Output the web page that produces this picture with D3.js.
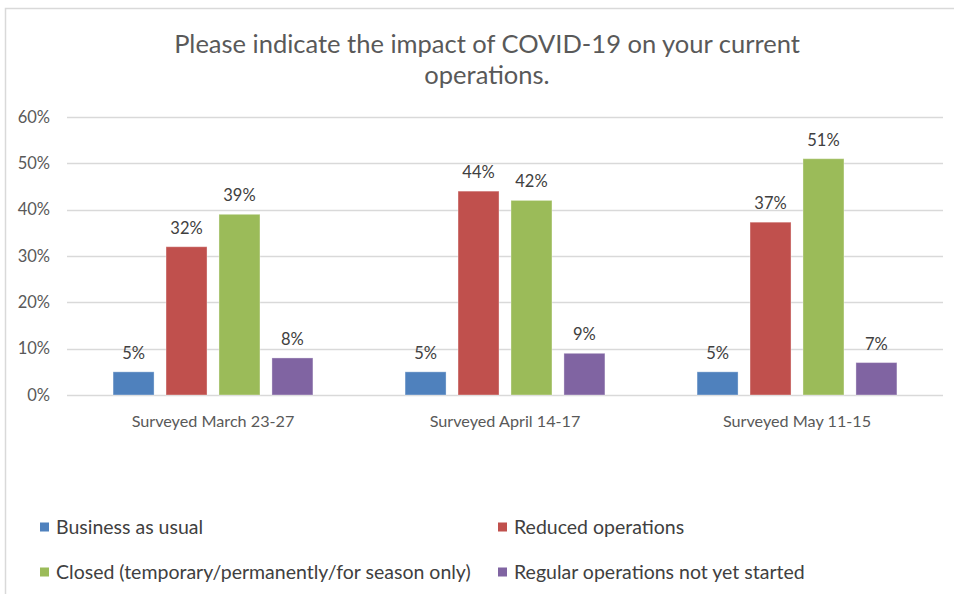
<!DOCTYPE html>
<html><head><meta charset="utf-8">
<script src="https://cdn.jsdelivr.net/npm/d3@7/dist/d3.min.js"></script>
<style>
html,body{margin:0;padding:0;background:#fff;}
svg{display:block;font-family:Lato,"Open Sans",sans-serif;}
</style></head>
<body>
<svg id="chart" width="954" height="594"></svg>
<script>
const titleLines = ["Please indicate the impact of COVID-19 on your current", "operations."];
const categories = ["Surveyed March 23-27", "Surveyed April 14-17", "Surveyed May 11-15"];
const seriesNames = ["Business as usual", "Reduced operations", "Closed (temporary/permanently/for season only)", "Regular operations not yet started"];
const seriesColors = ["#4f81bd", "#c0504d", "#9bbb59", "#8064a2"];
const businessAsUsual = [5, 5, 5];
const reducedOperations = [32, 44, 37.3];
const closed = [39, 42, 51];
const notYetStarted = [8, 9, 7];
const valueLabels = [["5%","5%","5%"],["32%","44%","37%"],["39%","42%","51%"],["8%","9%","7%"]];
const yTicks = [0, 10, 20, 30, 40, 50, 60];

const seriesValues = [businessAsUsual, reducedOperations, closed, notYetStarted];

const svg = d3.select("#chart");
// frame
svg.append("rect").attr("x", 5.5).attr("y", 8.5).attr("width", 1000).attr("height", 700)
  .attr("fill", "#fff").attr("stroke", "#d9d9d9").attr("stroke-width", 1.5);

const plotLeft = 67, plotRight = 943, plotTop = 117, plotBottom = 395;
const y = d3.scaleLinear().domain([0, 60]).range([plotBottom, plotTop]);
const x0 = d3.scaleBand().domain(categories).range([plotLeft, plotRight]).paddingInner(0).paddingOuter(0);
const x1 = d3.scaleBand().domain(d3.range(seriesNames.length)).range([0, x0.bandwidth()])
  .paddingInner(0.226).paddingOuter(0.87);

// title
const title = svg.append("text").attr("text-anchor", "middle").attr("fill", "#595959")
  .attr("font-size", 25.5);
titleLines.forEach((t, i) => {
  title.append("tspan").attr("x", 487).attr("y", 53 + i * 31).text(t);
});

// gridlines
svg.append("g").selectAll("line").data(yTicks).join("line")
  .attr("x1", plotLeft).attr("x2", plotRight)
  .attr("y1", d => Math.round(y(d)) + 0.5).attr("y2", d => Math.round(y(d)) + 0.5)
  .attr("stroke", "#d9d9d9").attr("stroke-width", 1.3);

// y axis labels
const yAxis = d3.axisLeft(y).tickValues(yTicks).tickFormat(d => d + "%").tickSize(0).tickPadding(0);
const ya = svg.append("g").attr("transform", `translate(50,0)`).call(yAxis);
ya.select(".domain").remove();
ya.selectAll("text").attr("fill", "#595959").attr("font-size", 16.5).attr("font-family", "Lato");

// x axis labels
const xAxis = d3.axisBottom(x0).tickSize(0).tickPadding(0);
const xa = svg.append("g").attr("transform", `translate(0,${plotBottom + 20})`).call(xAxis);
xa.select(".domain").remove();
xa.selectAll("text").attr("fill", "#595959").attr("font-size", 16.2).attr("font-family", "Lato");

// bars
const groups = svg.append("g").selectAll("g").data(categories).join("g")
  .attr("transform", d => `translate(${x0(d)},0)`);
groups.each(function(cat, ci) {
  const g = d3.select(this);
  const items = seriesValues.map((vals, si) => ({si, v: vals[ci], label: valueLabels[si][ci]}));
  g.selectAll("rect").data(items).join("rect")
    .attr("x", d => x1(d.si)).attr("width", x1.bandwidth())
    .attr("y", d => y(d.v)).attr("height", d => y(0) - y(d.v))
    .attr("fill", d => seriesColors[d.si])
    .attr("stroke", "#fff").attr("stroke-opacity", 0.35).attr("stroke-width", 1);
  g.selectAll("text").data(items).join("text")
    .attr("x", d => x1(d.si) + x1.bandwidth() / 2)
    .attr("y", d => y(d.v) - 13)
    .attr("text-anchor", "middle").attr("fill", "#404040").attr("font-size", 16.5)
    .text(d => d.label);
});

// legend
const legendPos = [[40, 527], [498, 527], [40, 572], [498, 572]];
const lg = svg.append("g").selectAll("g").data(seriesNames).join("g")
  .attr("transform", (d, i) => `translate(${legendPos[i][0]},${legendPos[i][1]})`);
lg.append("rect").attr("x", 0).attr("y", -4.5).attr("width", 9).attr("height", 9)
  .attr("fill", (d, i) => seriesColors[i]);
lg.append("text").attr("x", 16).attr("y", 7).attr("fill", "#404040").attr("font-size", 19.5)
  .text(d => d);
</script>
</body></html>
